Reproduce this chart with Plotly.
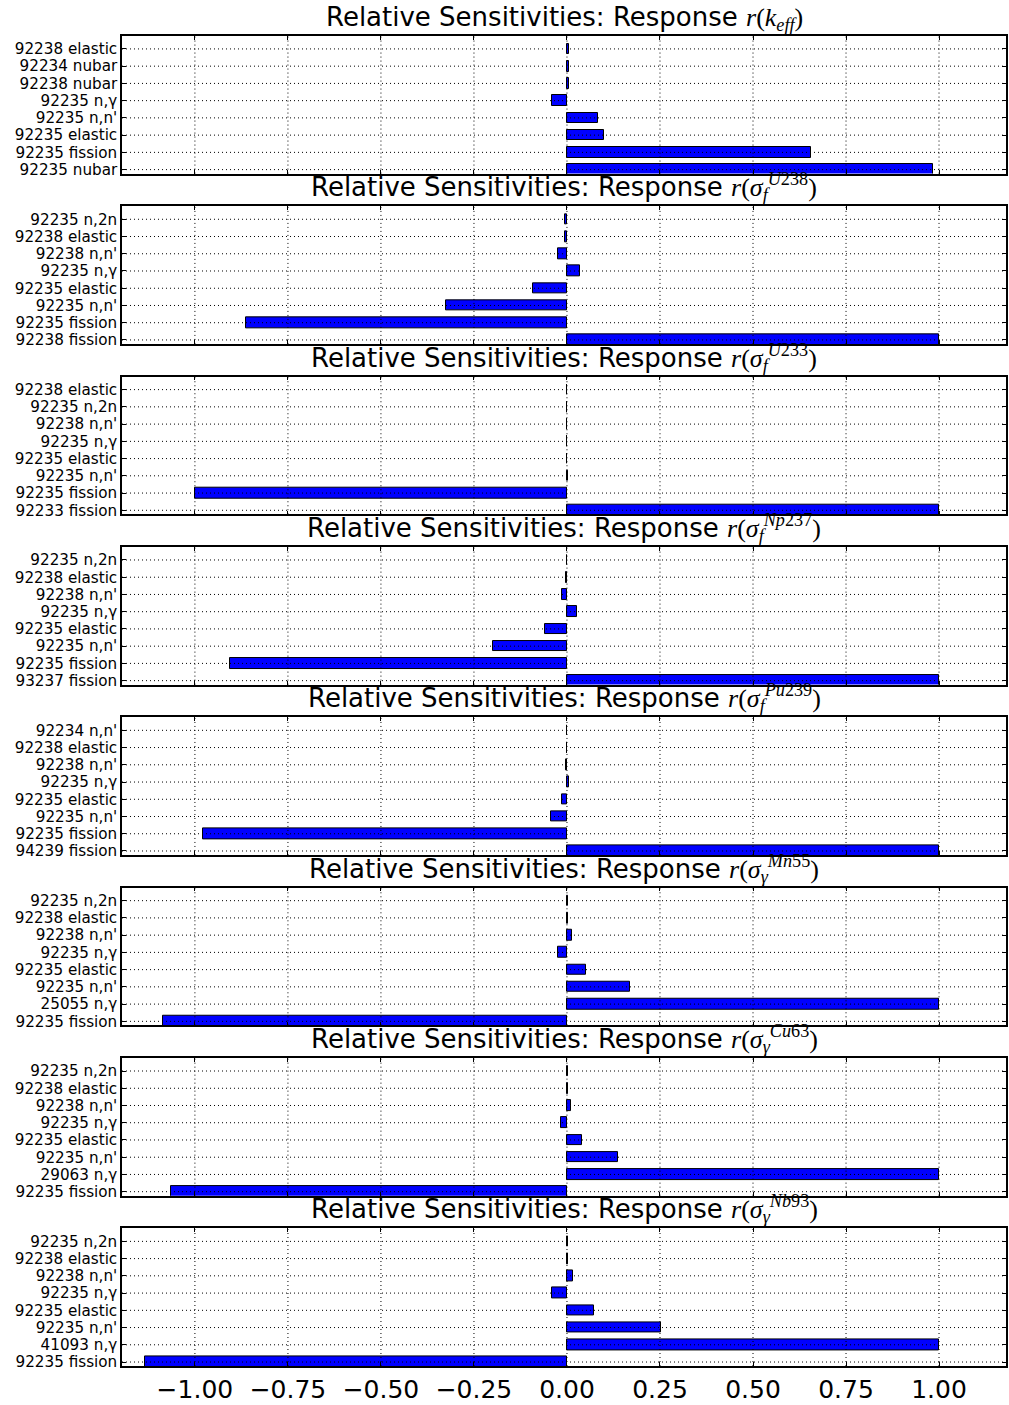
import plotly.graph_objects as go
from plotly.subplots import make_subplots

# Sensitivity labels (top to bottom) and relative sensitivity values per response
keff_labels = ["92238 elastic", "92234 nubar", "92238 nubar", "92235 n,γ",
               "92235 n,n'", "92235 elastic", "92235 fission", "92235 nubar"]
keff_values = [0.005, 0.005, 0.006, -0.040, 0.083, 0.100, 0.657, 0.984]

u238_labels = ["92235 n,2n", "92238 elastic", "92238 n,n'", "92235 n,γ",
               "92235 elastic", "92235 n,n'", "92235 fission", "92238 fission"]
u238_values = [-0.004, -0.004, -0.024, 0.035, -0.090, -0.325, -0.862, 1.0]

u233_labels = ["92238 elastic", "92235 n,2n", "92238 n,n'", "92235 n,γ",
               "92235 elastic", "92235 n,n'", "92235 fission", "92233 fission"]
u233_values = [0.0005, 0.0005, 0.001, 0.001, 0.001, 0.003, -1.0, 1.0]

np237_labels = ["92235 n,2n", "92238 elastic", "92238 n,n'", "92235 n,γ",
                "92235 elastic", "92235 n,n'", "92235 fission", "93237 fission"]
np237_values = [-0.001, -0.002, -0.014, 0.027, -0.060, -0.198, -0.906, 1.0]

pu239_labels = ["92234 n,n'", "92238 elastic", "92238 n,n'", "92235 n,γ",
                "92235 elastic", "92235 n,n'", "92235 fission", "94239 fission"]
pu239_values = [-0.001, -0.001, -0.002, 0.006, -0.014, -0.044, -0.978, 1.0]

mn55_labels = ["92235 n,2n", "92238 elastic", "92238 n,n'", "92235 n,γ",
               "92235 elastic", "92235 n,n'", "25055 n,γ", "92235 fission"]
mn55_values = [0.002, 0.002, 0.013, -0.024, 0.050, 0.169, 1.0, -1.086]

cu63_labels = ["92235 n,2n", "92238 elastic", "92238 n,n'", "92235 n,γ",
               "92235 elastic", "92235 n,n'", "29063 n,γ", "92235 fission"]
cu63_values = [0.002, 0.002, 0.011, -0.016, 0.040, 0.137, 1.0, -1.064]

nb93_labels = ["92235 n,2n", "92238 elastic", "92238 n,n'", "92235 n,γ",
               "92235 elastic", "92235 n,n'", "41093 n,γ", "92235 fission"]
nb93_values = [0.002, 0.003, 0.016, -0.040, 0.072, 0.252, 1.0, -1.134]

MATH = "<span style=\"font-family:'Liberation Serif'\">{}</span>"
resp_titles = [
    "<i>r</i>(<i>k</i><sub><i>eff</i></sub>)",
    "<i>r</i>(<i>σ</i><sub><i>f</i></sub><sup><i>U</i>238</sup>)",
    "<i>r</i>(<i>σ</i><sub><i>f</i></sub><sup><i>U</i>233</sup>)",
    "<i>r</i>(<i>σ</i><sub><i>f</i></sub><sup><i>Np</i>237</sup>)",
    "<i>r</i>(<i>σ</i><sub><i>f</i></sub><sup><i>Pu</i>239</sup>)",
    "<i>r</i>(<i>σ</i><sub><i>γ</i></sub><sup><i>Mn</i>55</sup>)",
    "<i>r</i>(<i>σ</i><sub><i>γ</i></sub><sup><i>Cu</i>63</sup>)",
    "<i>r</i>(<i>σ</i><sub><i>γ</i></sub><sup><i>Nb</i>93</sup>)",
]

panels = [
    (keff_labels, keff_values),
    (u238_labels, u238_values),
    (u233_labels, u233_values),
    (np237_labels, np237_values),
    (pu239_labels, pu239_values),
    (mn55_labels, mn55_values),
    (cu63_labels, cu63_values),
    (nb93_labels, nb93_values),
]

x_ticks = [-1.0, -0.75, -0.5, -0.25, 0.0, 0.25, 0.5, 0.75, 1.0]
x_range = [-1.196, 1.18]

n = len(panels)
fig = make_subplots(rows=n, cols=1, shared_xaxes=True,
                    vertical_spacing=33 / 1339)

FONT = "DejaVu Sans"
GRID = dict(color="black", width=1, dash="1px,3px")
shapes = []
annotations = []

for i, (labels, values) in enumerate(panels):
    row = i + 1
    suffix = "" if row == 1 else str(row)
    # bottom-to-top order for the category axis
    cats = labels[::-1]
    vals = values[::-1]
    fig.add_trace(
        go.Bar(
            x=vals, y=cats, orientation="h", width=0.62,
            marker=dict(color="#0000ff", line=dict(color="black", width=1)),
            showlegend=False, hoverinfo="x+y",
        ),
        row=row, col=1,
    )
    fig.update_yaxes(
        type="category", categoryorder="array", categoryarray=cats,
        tickmode="array", tickvals=cats, ticktext=cats,
        range=[-0.23, 7.75], showgrid=False, zeroline=False,
        showline=True, mirror="ticks", linecolor="black", linewidth=1.5,
        ticks="inside", ticklen=4, tickcolor="black",
        tickfont=dict(family=FONT, size=15.2, color="black"),
        row=row, col=1,
    )
    fig.update_xaxes(
        range=x_range, tickvals=x_ticks, tickformat=".2f",
        showgrid=False, zeroline=False,
        showline=True, mirror="ticks", linecolor="black", linewidth=1.5,
        ticks="inside", ticklen=4, tickcolor="black",
        showticklabels=(row == n),
        tickfont=dict(family=FONT, size=25, color="black"),
        row=row, col=1,
    )

    # dotted grid drawn over the bars
    for xv in x_ticks:
        shapes.append(dict(type="line", layer="above",
                           xref="x" + suffix, yref="y" + suffix + " domain",
                           x0=xv, x1=xv, y0=0, y1=1, line=GRID))
    for c in cats:
        shapes.append(dict(type="line", layer="above",
                           xref="x" + suffix + " domain", yref="y" + suffix,
                           x0=0, x1=1, y0=c, y1=c, line=GRID))

    annotations.append(dict(
        text="Relative Sensitivities: Response " + MATH.format(resp_titles[i]),
        xref="x" + suffix + " domain", yref="y" + suffix + " domain",
        x=0.5, y=1, xanchor="center", yanchor="bottom", yshift=-1,
        showarrow=False, font=dict(family=FONT, size=26, color="black"),
    ))

fig.update_layout(
    width=1009, height=1405,
    margin=dict(l=122, r=1, t=36, b=30),
    paper_bgcolor="white", plot_bgcolor="white",
    bargap=0, shapes=shapes, annotations=annotations,
    font=dict(family=FONT, color="black"),
)

fig.write_html("out.html")
